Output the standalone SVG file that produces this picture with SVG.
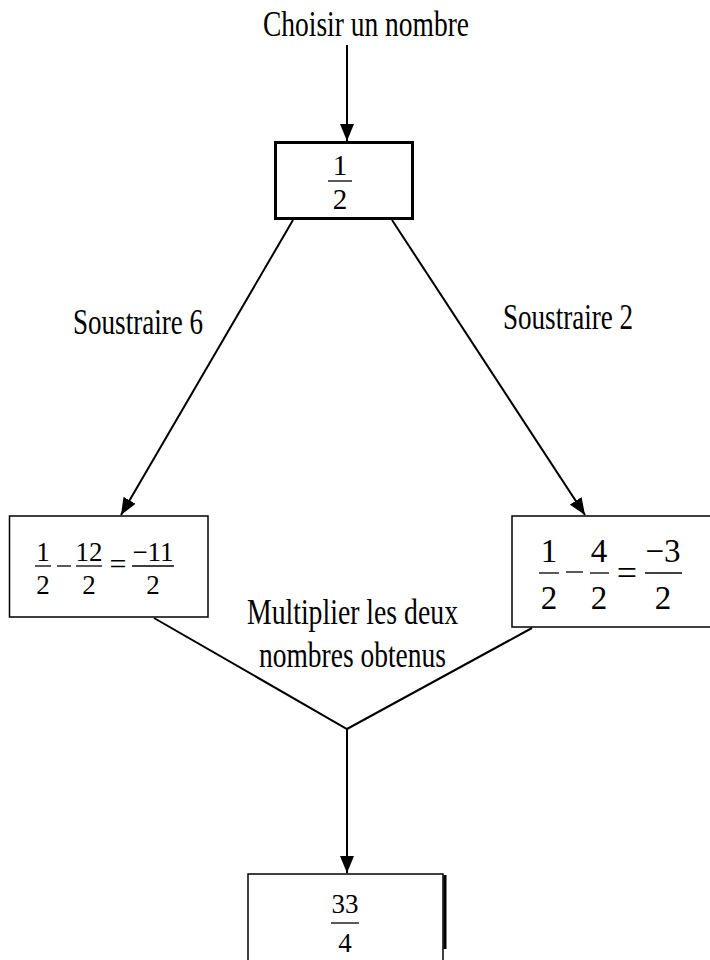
<svg xmlns="http://www.w3.org/2000/svg" width="710" height="960" viewBox="0 0 710 960">
<style>
.lbl{font-family:"Liberation Serif","Times New Roman",serif;font-size:35px;fill:#000}
.m{font-family:"Liberation Serif","Times New Roman",serif;fill:#000;text-anchor:middle}
.box{fill:#fff;stroke:#000;stroke-width:1.5}
.bar{stroke:#000;stroke-width:1.3}
.con{stroke:#000;stroke-width:2;fill:none}
</style>
<defs>
<marker id="ah" markerUnits="userSpaceOnUse" markerWidth="18" markerHeight="14" refX="17" refY="7" orient="auto">
<path d="M0,0 L17,7 L0,14 z" fill="#000"/>
</marker>
</defs>
<rect width="710" height="960" fill="#fff"/>
<g id="connectors">
<line class="con" x1="347" y1="45" x2="347" y2="141" marker-end="url(#ah)"/>
<line class="con" x1="293" y1="220" x2="121" y2="515" marker-end="url(#ah)"/>
<line class="con" x1="392" y1="220" x2="585" y2="515" marker-end="url(#ah)"/>
<polyline class="con" points="154,618 347,729 532,628"/>
<line class="con" x1="347" y1="729" x2="347" y2="873" marker-end="url(#ah)"/>
</g>
<g id="start">
<text class="lbl" x="263" y="36" font-size="36" textLength="206" lengthAdjust="spacingAndGlyphs">Choisir un nombre</text>
</g>
<g id="label-left">
<text class="lbl" x="73" y="334" textLength="130" lengthAdjust="spacingAndGlyphs">Soustraire 6</text>
</g>
<g id="label-right">
<text class="lbl" x="503" y="329" textLength="130" lengthAdjust="spacingAndGlyphs">Soustraire 2</text>
</g>
<g id="label-mult">
<text class="lbl" x="247" y="624" textLength="211" lengthAdjust="spacingAndGlyphs">Multiplier les deux</text>
<text class="lbl" x="259" y="667" textLength="187" lengthAdjust="spacingAndGlyphs">nombres obtenus</text>
</g>
<g id="node-top">
<rect x="275.5" y="142.5" width="137" height="76" fill="#fff" stroke="#000" stroke-width="3"/>
<text class="m" x="340" y="175" font-size="29">1</text>
<line class="bar" x1="328" y1="181" x2="352" y2="181"/>
<text class="m" x="340" y="209" font-size="29">2</text>
</g>
<g id="node-left">
<rect class="box" x="9.5" y="516" width="198.5" height="101"/>
<text class="m" x="43" y="561" font-size="27">1</text>
<line class="bar" x1="35" y1="566" x2="51" y2="566"/>
<text class="m" x="43" y="594" font-size="27">2</text>
<line class="bar" x1="57" y1="566" x2="71" y2="566"/>
<text class="m" x="89" y="561" font-size="27">12</text>
<line class="bar" x1="76" y1="566" x2="102" y2="566"/>
<text class="m" x="89" y="594" font-size="27">2</text>
<text class="m" x="118" y="574" font-size="30">=</text>
<text class="m" x="153" y="561" font-size="27">−11</text>
<line class="bar" x1="132" y1="566" x2="174" y2="566"/>
<text class="m" x="153" y="594" font-size="27">2</text>
</g>
<g id="node-right">
<rect class="box" x="512" y="516" width="200" height="111"/>
<text class="m" x="549" y="562" font-size="33">1</text>
<line class="bar" x1="539" y1="573" x2="559" y2="573"/>
<text class="m" x="549" y="609" font-size="33">2</text>
<line class="bar" x1="566" y1="572" x2="583" y2="572"/>
<text class="m" x="599" y="562" font-size="33">4</text>
<line class="bar" x1="590" y1="573" x2="609" y2="573"/>
<text class="m" x="599" y="609" font-size="33">2</text>
<text class="m" x="627" y="585" font-size="36">=</text>
<text class="m" x="663" y="562" font-size="33">−3</text>
<line class="bar" x1="645" y1="573" x2="682" y2="573"/>
<text class="m" x="663" y="609" font-size="33">2</text>
</g>
<g id="node-bottom">
<rect class="box" x="248" y="874" width="195" height="100"/>
<line x1="445" y1="875" x2="445" y2="949" stroke="#000" stroke-width="3"/>
<text class="m" x="345" y="913" font-size="27">33</text>
<line class="bar" x1="331" y1="923" x2="359" y2="923"/>
<text class="m" x="345" y="952" font-size="27">4</text>
</g>
</svg>
